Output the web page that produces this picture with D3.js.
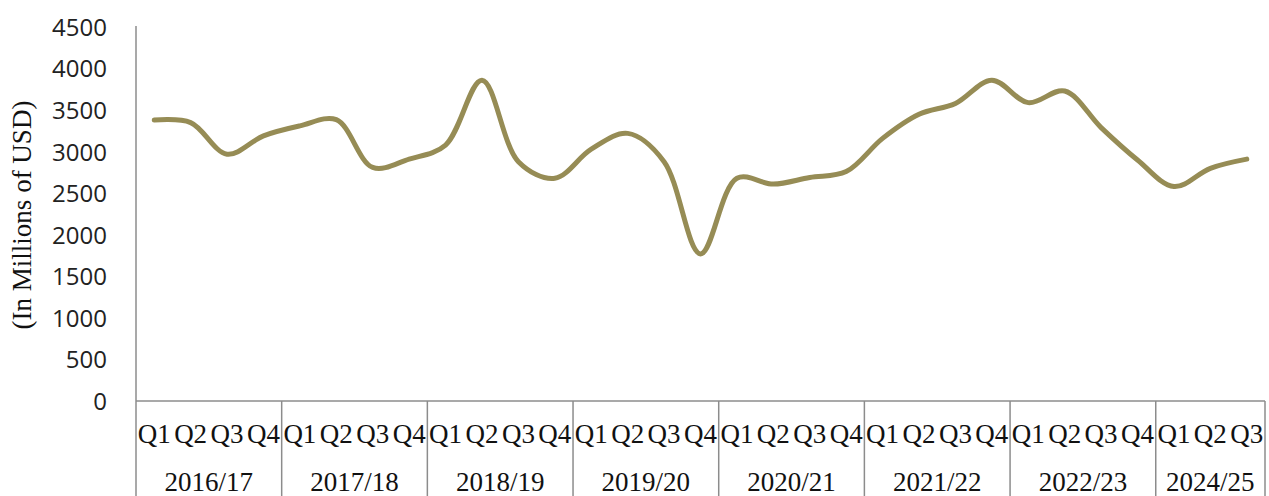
<!DOCTYPE html>
<html>
<head>
<meta charset="utf-8">
<script src="https://cdn.jsdelivr.net/npm/d3@7"></script>
<style>
  body { margin: 0; background: #fff; }
  svg { display: block; }
  .ytick text { font-family: "Open Sans", sans-serif; font-size: 24px; fill: #222; }
  .cat { font-family: "Liberation Serif", "Times New Roman", serif; font-size: 27px; fill: #111; }
</style>
</head>
<body>
<svg></svg>
<script>
// fiscal years and quarters shown on the x axis
let years = ["2016/17", "2017/18", "2018/19", "2019/20", "2020/21", "2021/22", "2022/23", "2024/25"];
let quartersPerYear = [4, 4, 4, 4, 4, 4, 4, 3];
let quarterNames = ["Q1", "Q2", "Q3", "Q4"];

// values in millions of USD, one per quarter
let values = [
  3380, 3350, 2970, 3190,
  3310, 3385, 2810, 2910,
  3080, 3860, 2880, 2680,
  3030, 3220, 2880, 1770,
  2680, 2610, 2690, 2760,
  3160, 3450, 3580, 3860,
  3590, 3730, 3290, 2900,
  2580, 2800, 2910
];

let yTicks = [0, 500, 1000, 1500, 2000, 2500, 3000, 3500, 4000, 4500];

let width = 1269, height = 496;
let plot = {left: 136, right: 1265, top: 27, bottom: 401};

// build the flat list of quarter keys
let cats = [];
years.forEach((y, i) => {
  for (let q = 0; q < quartersPerYear[i]; q++) {
    cats.push({year: y, q: quarterNames[q], key: y + "-" + quarterNames[q]});
  }
});
let data = cats.map((c, i) => Object.assign({value: values[i]}, c));

let scale = {
  x: d3.scaleBand().domain(cats.map(c => c.key)).range([plot.left, plot.right]),
  y: d3.scaleLinear().domain([0, 4500]).range([plot.bottom, plot.top])
};

let svg = d3.select("svg")
    .attr("width", width)
    .attr("height", height);

// y tick labels (no tick marks, no gridlines)
let yAxis = svg.append("g")
    .attr("class", "ytick")
    .attr("transform", "translate(" + plot.left + ",0)")
    .call(d3.axisLeft(scale.y).tickValues(yTicks).tickFormat(d3.format("d")).tickSize(0).tickPadding(29));
yAxis.select(".domain").remove();
yAxis.selectAll("text").attr("dy", "0.35em");

svg.append("text")
    .attr("class", "cat")
    .attr("transform", "translate(31," + ((plot.top + plot.bottom) / 2 + 1) + ") rotate(-90)")
    .style("text-anchor", "middle")
    .text("(In Millions of USD)");

let axisColor = "#8c8c8c";

// vertical axis line
svg.append("line")
    .attr("x1", plot.left).attr("x2", plot.left)
    .attr("y1", plot.top - 1).attr("y2", plot.bottom)
    .attr("stroke", axisColor).attr("stroke-width", 1.5);

// horizontal base line
svg.append("line")
    .attr("x1", plot.left).attr("x2", plot.right)
    .attr("y1", plot.bottom).attr("y2", plot.bottom)
    .attr("stroke", axisColor).attr("stroke-width", 1.5);

// group dividers
let bw = scale.x.bandwidth();
let bounds = [];
let idx = 0;
years.forEach((y, i) => {
  bounds.push({year: y, start: scale.x(cats[idx].key), end: scale.x(cats[idx + quartersPerYear[i] - 1].key) + bw});
  idx += quartersPerYear[i];
});
let divX = [plot.left].concat(bounds.map(b => b.end));
svg.selectAll(".div").data(divX)
  .enter().append("line")
    .attr("x1", d => d).attr("x2", d => d)
    .attr("y1", plot.bottom).attr("y2", height)
    .attr("stroke", axisColor).attr("stroke-width", 1.5);

// quarter labels
svg.selectAll(".qlab").data(cats)
  .enter().append("text")
    .attr("class", "cat")
    .attr("x", d => scale.x(d.key) + bw / 2)
    .attr("y", 443)
    .style("text-anchor", "middle")
    .text(d => d.q);

// year labels
svg.selectAll(".ylab").data(bounds)
  .enter().append("text")
    .attr("class", "cat")
    .attr("x", d => (d.start + d.end) / 2)
    .attr("y", 491)
    .style("text-anchor", "middle")
    .text(d => d.year);

// smoothed line
let line = d3.line()
    .x(d => scale.x(d.key) + bw / 2)
    .y(d => scale.y(d.value))
    .curve(d3.curveCatmullRom.alpha(0.5));

svg.append("path")
    .datum(data)
    .attr("fill", "none")
    .attr("stroke", "#968c55")
    .attr("stroke-width", 5)
    .attr("stroke-linecap", "round")
    .attr("stroke-linejoin", "round")
    .attr("d", line);
</script>
</body>
</html>
